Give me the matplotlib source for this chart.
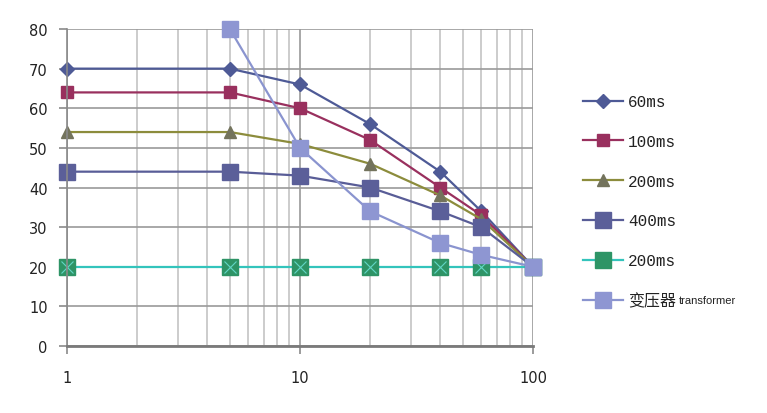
import matplotlib
matplotlib.use("Agg")
import matplotlib.pyplot as plt
from matplotlib.ticker import LogLocator, FixedLocator, NullFormatter

# donnees
x = [1, 5, 10, 20, 40, 60, 100]
x_trans = [5, 10, 20, 40, 60, 100]
s60 = [70, 70, 66, 56, 44, 34, 20]
s100 = [64, 64, 60, 52, 40, 33, 20]
s200 = [54, 54, 51, 46, 38, 32, 20]
s400 = [44, 44, 43, 40, 34, 30, 20]
s200b = [20, 20, 20, 20, 20, 20, 20]
trans = [80, 50, 34, 26, 23, 20]
noms = ["60ms", "100ms", "200ms", "400ms", "200ms", "变压器"]

plt.rcParams['font.family'] = ['DejaVu Sans', 'Noto Sans CJK SC']

fig = plt.figure(figsize=(7.67, 4.14), dpi=100)
ax = fig.add_axes([0.0874, 0.1618, 0.6075, 0.7657])

lw = 1.6
kw = dict(lw=lw, clip_on=False)
ax.plot(x, s60, color="#4E5A96", marker="D", ms=7, mfc="#4E5A96", mec="#4E5A96", label=noms[0], **kw)
ax.plot(x, s100, color="#99305E", marker="s", ms=9, mfc="#99305E", mec="#99305E", label=noms[1], **kw)
ax.plot(x, s200, color="#8C8C3C", marker="^", ms=9, mfc="#73735C", mec="#73735C", label=noms[2], **kw)
ax.plot(x, s400, color="#595D97", marker="s", ms=12, mfc="#5B5F99", mec="#5B5F99", label=noms[3], **kw)
ax.plot(x, s200b, color="#33C4BC", marker="s", ms=12, mfc="#2E9466", mec="#2E9466", label=noms[4], **kw)
ax.plot(x, s200b, color="none", lw=0, marker="x", ms=8, mew=0.8, mec="#62D6C6", clip_on=False)
ax.plot(x_trans, trans, color="#8A94CF", marker="s", ms=12, mfc="#8E96D2", mec="#8E96D2", label=noms[5], **kw)

ax.set_xscale("log")
ax.set_xlim(1, 100)
ax.set_ylim(0, 80)
ax.set_yticks(range(0, 81, 10))
ax.xaxis.set_major_locator(FixedLocator([1, 10, 100]))
ax.set_xticklabels(["1", "10", "100"])
ax.xaxis.set_minor_locator(LogLocator(base=10, subs=range(2, 10)))
ax.xaxis.set_minor_formatter(NullFormatter())

ax.grid(True, which="major", color="#9A9A9A", lw=1.2)
ax.grid(True, which="minor", axis="x", color="#C4C4C4", lw=1.2)
ax.set_axisbelow(True)

for s in ["top", "right"]:
    ax.spines[s].set_visible(False)
ax.spines["left"].set_color("#8A8A8A")
ax.spines["bottom"].set_color("#7A7A7A")
ax.spines["left"].set_linewidth(1.2)
ax.spines["bottom"].set_linewidth(2)
ax.tick_params(axis="both", which="major", direction="out", length=6, width=1.2,
               color="#8A8A8A", labelsize=10.5, labelcolor="#222222")
ax.tick_params(axis="x", which="minor", length=0)
ax.tick_params(axis="x", which="major", pad=11)
ax.tick_params(axis="y", which="major", pad=8)

leg = fig.legend(loc="upper left", bbox_to_anchor=(0.741, 0.805), frameon=False,
                 handlelength=2.5, labelspacing=1.55, handletextpad=0.35,
                 prop={"family": ["Liberation Mono", "Noto Sans CJK SC"], "size": 11.5})
for t in leg.get_texts():
    t.set_color("#222222")

# petit texte "transformer" juste apres le dernier libelle
fig.canvas.draw()
bb = leg.get_texts()[-1].get_window_extent()
fx, fy = fig.transFigure.inverted().transform((bb.x1 + 3, bb.y0 + 3))
fig.text(fx, fy, "transformer", fontsize=8, color="#222222",
         family="Liberation Sans", va="bottom")

fig.savefig("out.png", dpi=100)
